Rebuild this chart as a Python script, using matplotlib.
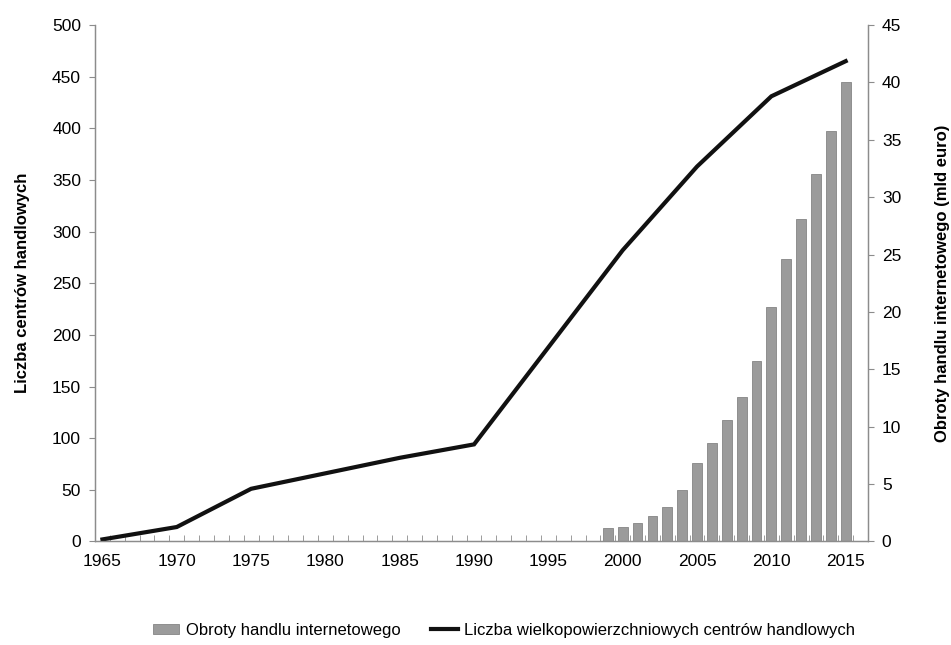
import matplotlib
matplotlib.use('Agg')
import matplotlib.pyplot as plt
from matplotlib.ticker import MultipleLocator, FixedLocator

plt.rcParams['font.family'] = ['Liberation Sans', 'DejaVu Sans']

# liczba wielkopowierzchniowych centrów handlowych (co 5 lat)
lata_centra = [1965, 1970, 1975, 1980, 1985, 1990, 1995, 2000, 2005, 2010, 2015]
liczba_centrow = [2, 14, 51, 66, 81, 94, 188, 282, 363, 431, 465]

# obroty handlu internetowego, mld euro
lata_obroty = list(range(1999, 2016))
obroty = [1.2, 1.3, 1.6, 2.2, 3.0, 4.5, 6.8, 8.6, 10.6, 12.6, 15.7,
          20.4, 24.6, 28.1, 32.0, 35.8, 40.0]

lata_etykiety = list(range(1965, 2016, 5))

kolor_osi = '#8c8c8c'

fig = plt.figure(figsize=(9.51, 6.45), dpi=100)
ax = fig.add_axes([0.0999, 0.1605, 0.8128, 0.8007])
ax2 = ax.twinx()

# słupki na prawej osi, linia na lewej - linia ma być na wierzchu
ax2.bar(lata_obroty, obroty, width=0.66, color='#9b9b9b', edgecolor='#858585',
        linewidth=0.6, label='Obroty handlu internetowego')
ax.set_zorder(ax2.get_zorder() + 1)
ax.patch.set_visible(False)
ax.plot(lata_centra, liczba_centrow, color='#111111', lw=3.0,
        solid_joinstyle='miter', label='Liczba wielkopowierzchniowych centrów handlowych')

ax.set_xlim(1964.5, 2016.5)
ax.set_ylim(0, 500)
ax2.set_ylim(0, 45)
ax.yaxis.set_major_locator(MultipleLocator(50))
ax2.yaxis.set_major_locator(MultipleLocator(5))

ax.xaxis.set_major_locator(FixedLocator(lata_etykiety))
ax.xaxis.set_minor_locator(FixedLocator([r - 0.5 for r in range(1965, 2018)]))
ax.tick_params(axis='x', which='major', length=0, pad=9, labelsize=12.5)
ax.tick_params(axis='x', which='minor', length=4, direction='in', color=kolor_osi)
ax.tick_params(axis='y', length=4, color=kolor_osi, labelsize=12.5, pad=6)
ax2.tick_params(axis='y', length=4, color=kolor_osi, labelsize=12.5, pad=6)

for a in (ax, ax2):
    a.spines['top'].set_visible(False)
    for s in ('left', 'right', 'bottom'):
        a.spines[s].set_color(kolor_osi)
        a.spines[s].set_linewidth(0.9)

ax.set_ylabel('Liczba centrów handlowych', fontsize=12, fontweight='bold', labelpad=16)
ax2.set_ylabel('Obroty handlu internetowego (mld euro)', fontsize=12,
               fontweight='bold', labelpad=24)

h1, l1 = ax2.get_legend_handles_labels()
h2, l2 = ax.get_legend_handles_labels()
fig.legend(h1 + h2, l1 + l2, loc='lower center', bbox_to_anchor=(0.53, -0.012),
           ncol=2, frameon=False, fontsize=12, handlelength=1.6,
           handleheight=0.5, columnspacing=1.8, handletextpad=0.4)

fig.savefig('out.png', dpi=100, facecolor='white')
